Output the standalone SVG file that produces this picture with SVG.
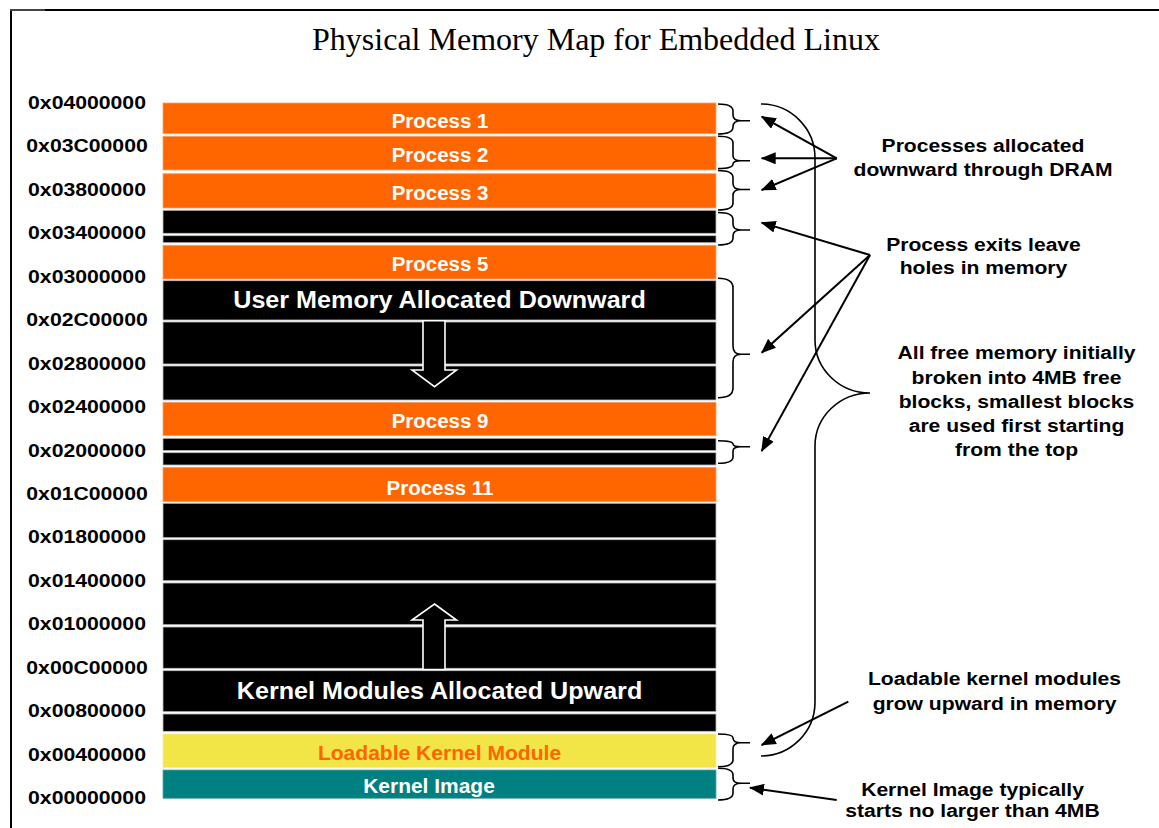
<svg xmlns="http://www.w3.org/2000/svg" width="1159" height="828" viewBox="0 0 1159 828">
<defs>
<style>
.sans{font-family:"Liberation Sans",Arial,sans-serif;font-weight:bold;text-anchor:middle}
.addr{font-size:18.6px;fill:#000}
.bt{font-size:19.5px;fill:#fff}
.big{font-size:23.5px;fill:#fff}
.note{font-size:18.6px;fill:#000}
.title{font-family:"Liberation Serif","Times New Roman",serif;font-size:32px;text-anchor:middle;fill:#000}
.orange{fill:#FF6600;stroke:#f4a070;stroke-width:0.8}
.black{fill:#000;stroke:#bbb;stroke-width:0.8}
.brace{fill:none;stroke:#000;stroke-width:1.6}
.arrow{fill:none;stroke:#000;stroke-width:2;marker-end:url(#ah)}
.blk{fill:#000;stroke:#fff;stroke-width:1.6}
</style>
<marker id="ah" viewBox="0 0 15 12" markerWidth="15" markerHeight="12" markerUnits="userSpaceOnUse" refX="14" refY="6" orient="auto">
<path d="M0,0 L15,6 L0,12 Z" fill="#000"/>
</marker>
</defs>
<rect width="1159" height="828" fill="#fff"/>
<rect x="11" y="10" width="1160" height="830" fill="none" stroke="#000" stroke-width="2"/>
<line x1="10" y1="10" x2="45" y2="10" stroke="#888" stroke-width="1"/>
<text class="title" x="596" y="50">Physical Memory Map for Embedded Linux</text>

<g id="addresses" class="sans addr">
<text transform="translate(87,108.9) scale(1.14,1)">0x04000000</text>
<text transform="translate(87,152.3) scale(1.14,1)">0x03C00000</text>
<text transform="translate(87,195.8) scale(1.14,1)">0x03800000</text>
<text transform="translate(87,239.2) scale(1.14,1)">0x03400000</text>
<text transform="translate(87,282.7) scale(1.14,1)">0x03000000</text>
<text transform="translate(87,326.2) scale(1.14,1)">0x02C00000</text>
<text transform="translate(87,369.6) scale(1.14,1)">0x02800000</text>
<text transform="translate(87,413.1) scale(1.14,1)">0x02400000</text>
<text transform="translate(87,456.5) scale(1.14,1)">0x02000000</text>
<text transform="translate(87,500.0) scale(1.14,1)">0x01C00000</text>
<text transform="translate(87,543.4) scale(1.14,1)">0x01800000</text>
<text transform="translate(87,586.9) scale(1.14,1)">0x01400000</text>
<text transform="translate(87,630.3) scale(1.14,1)">0x01000000</text>
<text transform="translate(87,673.8) scale(1.14,1)">0x00C00000</text>
<text transform="translate(87,717.2) scale(1.14,1)">0x00800000</text>
<text transform="translate(87,760.7) scale(1.14,1)">0x00400000</text>
<text transform="translate(87,804.1) scale(1.14,1)">0x00000000</text>
</g>

<g id="process1"><rect class="orange" x="163" y="103" width="553" height="30.7"/><text class="sans bt" transform="translate(440,128.3) scale(1.05,1)">Process 1</text></g>
<g id="process2"><rect class="orange" x="163" y="136.3" width="553" height="33.7"/><text class="sans bt" transform="translate(440,161.7) scale(1.05,1)">Process 2</text></g>
<g id="process3"><rect class="orange" x="163" y="173.7" width="553" height="34.3"/><text class="sans bt" transform="translate(440,200) scale(1.05,1)">Process 3</text></g>
<g id="hole1"><rect class="black" x="163" y="210.3" width="553" height="23"/><rect class="black" x="163" y="235.7" width="553" height="7"/></g>
<g id="process5"><rect class="orange" x="163" y="245.3" width="553" height="33.7"/><text class="sans bt" transform="translate(440,271) scale(1.05,1)">Process 5</text></g>
<g id="user-memory">
<rect class="black" x="163" y="280.7" width="553" height="39.3"/>
<rect class="black" x="163" y="322" width="553" height="42"/>
<rect class="black" x="163" y="366" width="553" height="34"/>
<text class="sans big" transform="translate(439.5,308.3) scale(1.07,1)">User Memory Allocated Downward</text>
<path class="blk" d="M423,320.7 H445 V370 H456.5 L434.5,386.7 L412,370 H423 Z"/>
</g>
<g id="process9"><rect class="orange" x="163" y="402.3" width="553" height="33.4"/><text class="sans bt" transform="translate(440,428.3) scale(1.05,1)">Process 9</text></g>
<g id="hole2"><rect class="black" x="163" y="438.3" width="553" height="12.2"/><rect class="black" x="163" y="452.7" width="553" height="12.3"/></g>
<g id="process11"><rect class="orange" x="163" y="467.3" width="553" height="34.4"/><text class="sans bt" transform="translate(440,494.5) scale(1.05,1)">Process 11</text></g>
<g id="kernel-modules">
<rect class="black" x="163" y="503.3" width="553" height="34.4"/>
<rect class="black" x="163" y="539.7" width="553" height="41"/>
<rect class="black" x="163" y="583" width="553" height="41.7"/>
<rect class="black" x="163" y="627" width="553" height="41.3"/>
<rect class="black" x="163" y="670.7" width="553" height="41"/>
<rect class="black" x="163" y="714" width="553" height="17.3"/>
<path class="blk" d="M434.5,604 L456.5,620 H445 V669.5 H423 V620 H412 Z"/>
<text class="sans big" transform="translate(439.5,699.3) scale(1.07,1)">Kernel Modules Allocated Upward</text>
</g>
<g id="loadable-module"><rect x="163" y="734" width="553" height="33.7" fill="#F2E547" stroke="#f6ee9a" stroke-width="0.8"/><text class="sans" font-size="19.5" fill="#FF6600" transform="translate(439.5,760) scale(1.08,1)">Loadable Kernel Module</text></g>
<g id="kernel-image"><rect x="163" y="770" width="553" height="28.3" fill="#008080" stroke="#5aa8a8" stroke-width="0.8"/><text class="sans bt" transform="translate(429,792.7) scale(1.075,1)">Kernel Image</text></g>

<g id="note-processes" class="sans note">
<text transform="translate(983,152.3) scale(1.135,1)">Processes allocated</text>
<text transform="translate(983,176) scale(1.135,1)">downward through DRAM</text>
</g>
<g id="note-exits" class="sans note">
<text transform="translate(983.5,250.7) scale(1.135,1)">Process exits leave</text>
<text transform="translate(983.5,274.3) scale(1.135,1)">holes in memory</text>
</g>
<g id="note-free" class="sans note">
<text transform="translate(1016.5,359.3) scale(1.135,1)">All free memory initially</text>
<text transform="translate(1016.5,383.5) scale(1.135,1)">broken into 4MB free</text>
<text transform="translate(1016.5,407.7) scale(1.135,1)">blocks, smallest blocks</text>
<text transform="translate(1016.5,431.9) scale(1.135,1)">are used first starting</text>
<text transform="translate(1016.5,456.1) scale(1.135,1)">from the top</text>
</g>
<g id="note-modules" class="sans note">
<text transform="translate(994.5,685) scale(1.135,1)">Loadable kernel modules</text>
<text transform="translate(994.5,710) scale(1.135,1)">grow upward in memory</text>
</g>
<g id="note-kernel" class="sans note">
<text transform="translate(972.5,795.7) scale(1.135,1)">Kernel Image typically</text>
<text transform="translate(972.5,816.7) scale(1.135,1)">starts no larger than 4MB</text>
</g>

<g id="connectors">
<path class="brace" d="M718,104 Q733,104 733,111 V114.7 Q733,120.7 741,120.7 H750 M741,120.7 Q733,120.7 733,126.7 V127 Q733,134 718,134"/>
<path class="brace" d="M718,136.3 Q733,136.3 733,143 V155.7 Q733,160.7 741,160.7 H750 M741,160.7 Q733,160.7 733,164 Q733,168.6 718,168.6"/>
<path class="brace" d="M718,170.5 Q733,170.5 733,177.5 V183.5 Q733,189.5 741,189.5 H750 M741,189.5 Q733,189.5 733,195.5 V203 Q733,210 718,210"/>
<path class="brace" d="M718,212.5 Q733,212.5 733,219.5 V224 Q733,230 741,230 H750 M741,230 Q733,230 733,236 V238 Q733,245 718,245"/>
<path class="brace" d="M718,278.3 Q733,278.3 733,288 V346 Q733,354.3 741,354.3 H750 M741,354.3 Q733,354.3 733,362 V388 Q733,397.7 718,397.7"/>
<path class="brace" d="M718,440.7 Q733,440.7 733,444 Q733,446.7 741,446.7 H750 M741,446.7 Q733,446.7 733,451 V457 Q733,463.3 718,463.3"/>
<path class="brace" d="M718,734 Q733,734 733,738 Q733,742.7 741,742.7 H750 M741,742.7 Q733,742.7 733,749 V760 Q733,766.7 718,766.7"/>
<path class="brace" d="M718,768.3 Q733,768.3 733,775 V778 Q733,783.3 741,783.3 H750 M741,783.3 Q733,783.3 733,789 V793 Q733,800 718,800"/>
<path class="brace" d="M761,104 A54,54 0 0 1 815,158 V340 A55,53 0 0 0 870,393 A55,53 0 0 0 815,446 V702 A54,54 0 0 1 761,756"/>
<line class="arrow" x1="836.7" y1="158.3" x2="761.7" y2="116.7"/>
<line class="arrow" x1="836.7" y1="158.3" x2="761.7" y2="158.3"/>
<line class="arrow" x1="836.7" y1="158.3" x2="761.7" y2="190"/>
<line class="arrow" x1="870" y1="255" x2="761.7" y2="222.7"/>
<line class="arrow" x1="870" y1="255" x2="761.7" y2="352.7"/>
<line class="arrow" x1="870" y1="255" x2="761.7" y2="451"/>
<line class="arrow" x1="848.3" y1="701.7" x2="761.7" y2="745"/>
<line class="arrow" x1="836.7" y1="800" x2="750" y2="787.7"/>
</g>
</svg>
